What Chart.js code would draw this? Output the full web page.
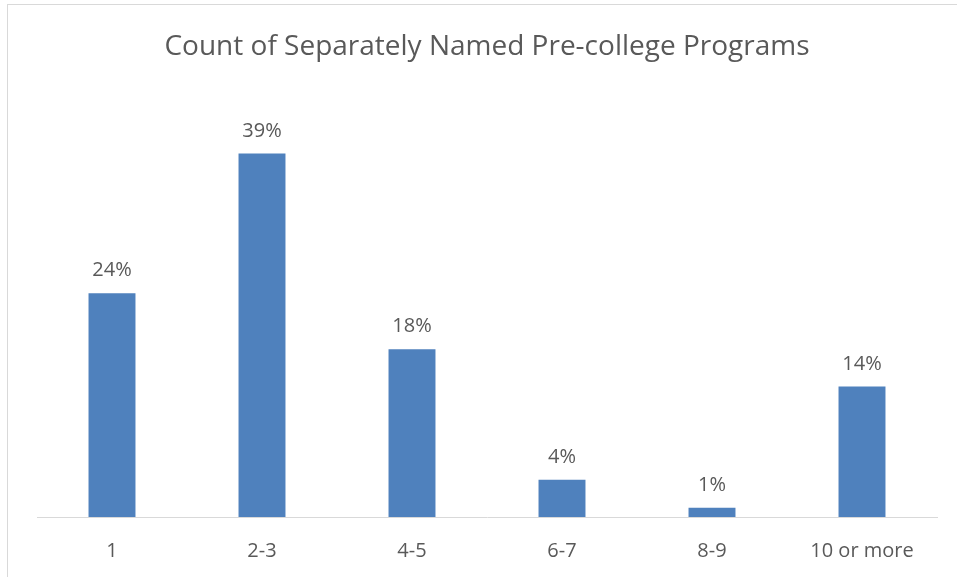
<!DOCTYPE html>
<html>
<head>
<meta charset="utf-8">
<script src="https://cdn.jsdelivr.net/npm/chart.js@4.4.0/dist/chart.umd.min.js"></script>
<style>
  body { margin: 0; background: #fff; overflow: hidden; }
  #frame { position: absolute; left: 7px; top: 4px; width: 960px; height: 600px; border: 1px solid #d9d9d9; }
  #wrap { position: absolute; left: 0; top: 0; width: 957px; height: 585px; }
</style>
</head>
<body>
<div id="frame"></div>
<div id="wrap"><canvas id="myChart"></canvas></div>
<script>
var categories = ["1", "2-3", "4-5", "6-7", "8-9", "10 or more"];
var percents = [24, 39, 18, 4, 1, 14];

var textColor = '#595959';
var fontFamily = "'Open Sans', 'Noto Sans', sans-serif";

// draws the % labels above each bar
var valueLabels = {
    id: 'valueLabels',
    afterDatasetsDraw: function (chart) {
        var ctx = chart.ctx;
        var meta = chart.getDatasetMeta(0);
        ctx.save();
        ctx.fillStyle = textColor;
        ctx.font = '20px ' + fontFamily;
        ctx.textAlign = 'center';
        ctx.textBaseline = 'alphabetic';
        meta.data.forEach(function (bar, i) {
            ctx.fillText(percents[i] + '%', bar.x, bar.y - 17);
        });
        ctx.restore();
    }
};

var ctx = document.getElementById('myChart').getContext('2d');
var chart = new Chart(ctx, {
    type: 'bar',
    data: {
        labels: categories,
        datasets: [{
            data: percents,
            backgroundColor: '#4F81BD',
            barPercentage: 0.313,
            categoryPercentage: 1
        }]
    },
    options: {
        responsive: true,
        maintainAspectRatio: false,
        animation: false,
        layout: { padding: { left: 37, right: 20, top: 0, bottom: 0 } },
        plugins: {
            legend: { display: false },
            tooltip: { enabled: false },
            title: {
                display: true,
                text: 'Count of Separately Named Pre-college Programs',
                color: textColor,
                font: { family: fontFamily, size: 28, weight: 'normal' },
                padding: { top: 30, bottom: 34 }
            }
        },
        scales: {
            x: {
                grid: { display: false, drawTicks: false },
                border: { color: '#d9d9d9', width: 1 },
                ticks: { color: textColor, font: { family: fontFamily, size: 20 }, padding: 22 }
            },
            y: {
                display: false,
                min: 0,
                max: 45
            }
        }
    },
    plugins: [valueLabels]
});
</script>
</body>
</html>
